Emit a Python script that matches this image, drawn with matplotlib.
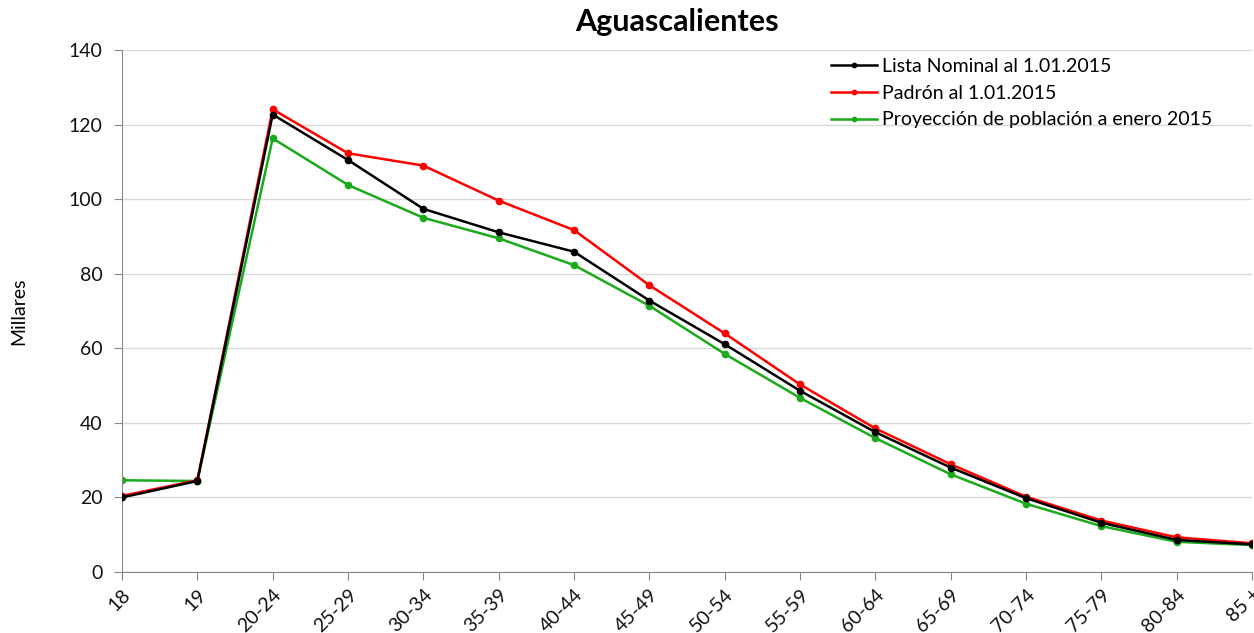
import matplotlib.pyplot as plt
import numpy as np

plt.rcParams['font.family'] = ['Lato', 'DejaVu Sans']

grupos = ['18', '19', '20-24', '25-29', '30-34', '35-39', '40-44', '45-49',
          '50-54', '55-59', '60-64', '65-69', '70-74', '75-79', '80-84', '85 +']

# miles de personas por grupo de edad
lista_nominal = [20.0, 24.4, 122.7, 110.5, 97.4, 91.1, 85.9, 72.8,
                 61.1, 48.6, 37.5, 28.0, 19.8, 13.2, 8.6, 7.4]
padron = [20.4, 24.6, 124.1, 112.3, 109.0, 99.6, 91.7, 76.9,
          64.0, 50.3, 38.5, 28.9, 20.2, 13.8, 9.3, 7.7]
proyeccion = [24.6, 24.4, 116.3, 103.8, 95.0, 89.5, 82.3, 71.4,
              58.5, 46.7, 35.9, 26.2, 18.3, 12.3, 8.1, 7.2]

x = np.arange(len(grupos))

fig = plt.figure(figsize=(12.54, 6.33), dpi=100)
ax = fig.add_axes([0.0973, 0.0964, 0.9011, 0.8246])

ax.plot(x, lista_nominal, color='black', lw=1.8, marker='o', ms=4.5,
        label='Lista Nominal al 1.01.2015', zorder=4)
ax.plot(x, padron, color='#ff0000', lw=1.8, marker='o', ms=4.5,
        label='Padrón al 1.01.2015', zorder=3)
ax.plot(x, proyeccion, color='#1aaa1a', lw=1.8, marker='o', ms=4.5,
        label='Proyección de población a enero 2015', zorder=2)

ax.set_xlim(0, len(grupos) - 1)
ax.set_ylim(0, 140)
ax.set_yticks(np.arange(0, 141, 20))
ax.set_xticks(x)
ax.set_xticklabels(grupos, rotation=45, ha='right', rotation_mode='anchor')
ax.tick_params(axis='both', labelsize=14, color='#888888', length=6,
               direction='out', labelcolor='#111111')
ax.tick_params(axis='x', pad=4)
ax.tick_params(axis='y', pad=8)

ax.grid(axis='y', color='#d9d9d9', lw=1)
ax.set_axisbelow(True)
for s in ['top', 'right']:
    ax.spines[s].set_visible(False)
for s in ['left', 'bottom']:
    ax.spines[s].set_color('#888888')

ax.set_ylabel('Millares', fontsize=14, labelpad=30)
fig.suptitle('Aguascalientes', fontsize=22, fontweight='bold', x=0.54, y=0.987)

leg = ax.legend(loc='upper left', bbox_to_anchor=(831 / 1254, 1 - 58 / 633),
                bbox_transform=fig.transFigure, frameon=False, fontsize=14,
                handlelength=2.37, handletextpad=0.26, labelspacing=0.5,
                markerscale=0.7, borderaxespad=0, borderpad=0)

fig.savefig('out.png', dpi=100)
